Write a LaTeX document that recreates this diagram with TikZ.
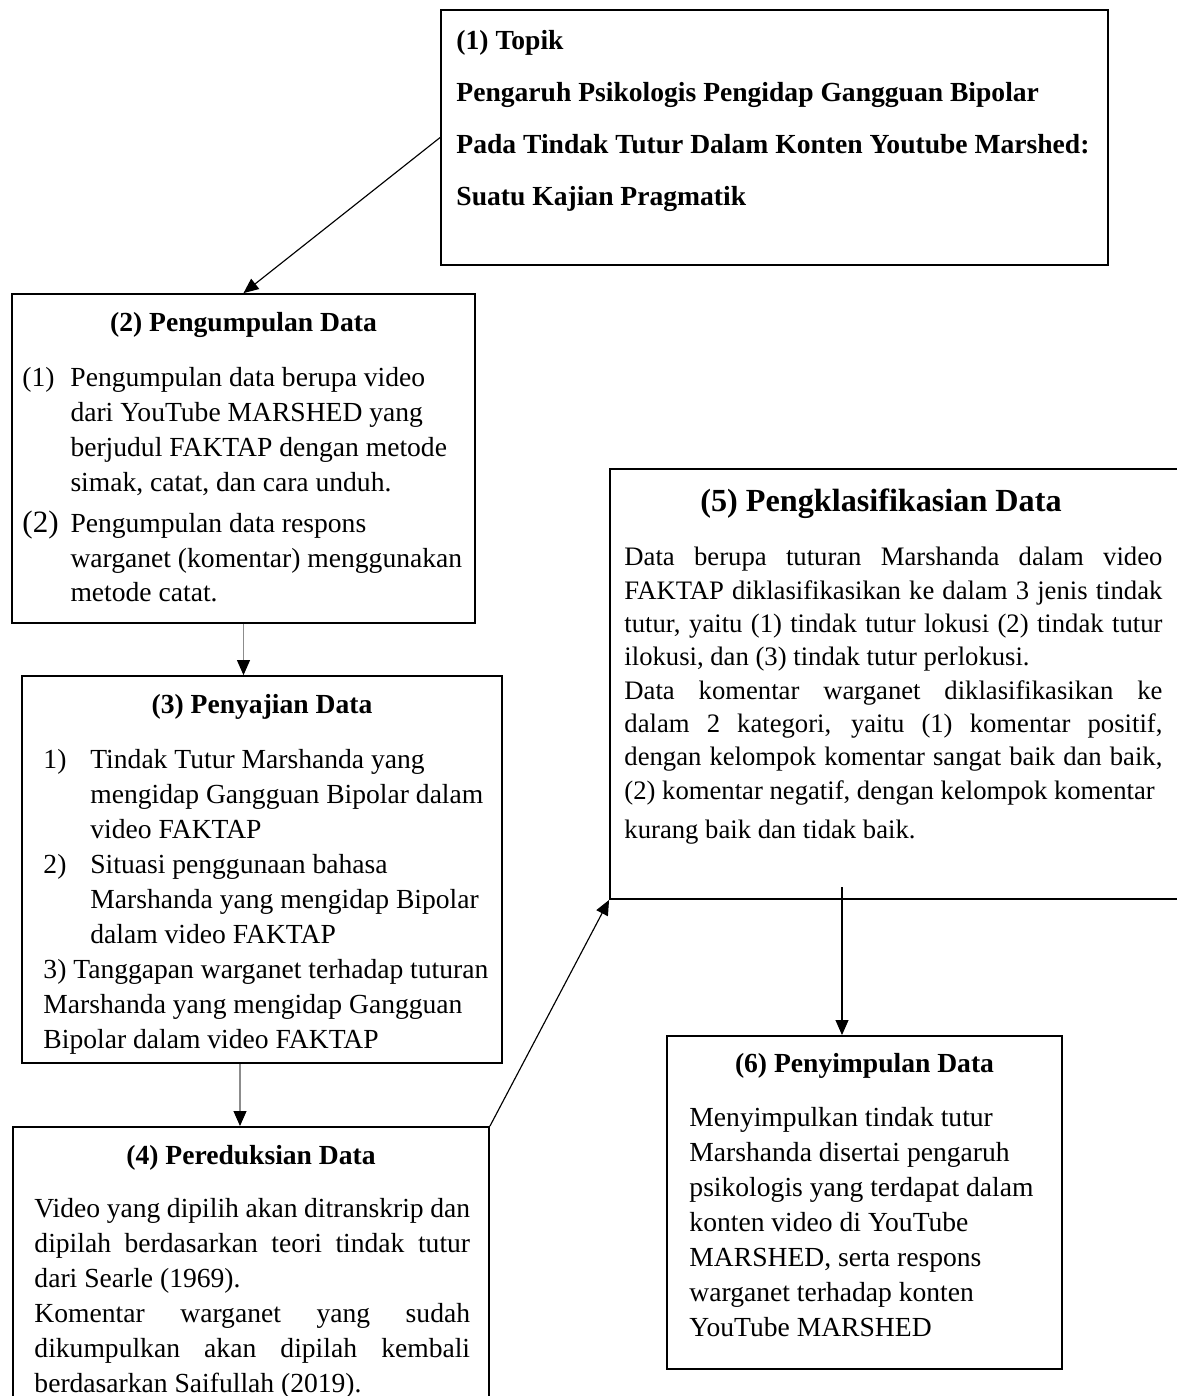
\documentclass[tikz,border=0pt]{standalone}
\usepackage{fontspec}
\setmainfont{Liberation Serif}
\usetikzlibrary{arrows.meta}

\begin{document}
\begin{tikzpicture}[x=0.435pt, y=-0.435pt,
  box/.style={draw, thick, rectangle, inner sep=0pt},
  head/.style={font=\fontsize{12}{14}\selectfont\bfseries, inner sep=0pt, anchor=base},
  body/.style={font=\fontsize{12}{15.2}\selectfont, inner sep=0pt, anchor=north west},
  arr/.style={line width=0.5pt, -{Triangle[length=6.5pt,width=5.6pt]}},
  greyarr/.style={arr, draw=black!45, -{Triangle[length=6.5pt,width=5.6pt,black]}}]
\useasboundingbox (0,0) rectangle (1177,1396);
\node[box, minimum width=290.1pt, minimum height=110.9pt] (B1) at (774.5,137.5) {};
\node[box, minimum width=201.4pt, minimum height=143.1pt] (B2) at (243.5,458.5) {};
\node[box, minimum width=208.8pt, minimum height=168.3pt] (B3) at (262,869.5) {};
\node[box, minimum width=207.1pt, minimum height=127.5pt] (B4) at (251,1273.5) {};
\node[box, minimum width=254.5pt, minimum height=187.1pt] (B5) at (902.5,684) {};
\node[box, minimum width=171.8pt, minimum height=144.9pt] (B6) at (864.5,1202.5) {};
\node[body, font=\fontsize{12}{22.6}\selectfont\bfseries, align=left] (T1) at (456,30)
  {(1) Topik\\ Pengaruh Psikologis Pengidap Gangguan Bipolar\\ Pada Tindak Tutur Dalam Konten Youtube Marshed:\\ Suatu Kajian Pragmatik};
\node[head] (H2) at (243.5,331) {(2) Pengumpulan Data};
\node[body] (T2) at (22,362) {\begin{tabular}{@{}p{20.9pt}@{}l@{}}
  (1) & Pengumpulan data berupa video\\
      & dari YouTube MARSHED yang\\
      & berjudul FAKTAP dengan metode\\
      & simak, catat, dan cara unduh.\\[2.6pt]
  {\fontsize{13.5}{15.2}\selectfont(2)} & Pengumpulan data respons\\
      & warganet (komentar) menggunakan\\[-0.6pt]
      & metode catat.
  \end{tabular}};
\node[head] (H3) at (262,713) {(3) Penyajian Data};
\node[body] (T3) at (43,744) {\begin{tabular}{@{}p{20.4pt}@{}l@{}}
  1) & Tindak Tutur Marshanda yang\\
     & mengidap Gangguan Bipolar dalam\\
     & video FAKTAP\\
  2) & Situasi penggunaan bahasa\\
     & Marshanda yang mengidap Bipolar\\
     & dalam video FAKTAP\\
  \multicolumn{2}{@{}l@{}}{3) Tanggapan warganet terhadap tuturan}\\
  \multicolumn{2}{@{}l@{}}{Marshanda yang mengidap Gangguan}\\
  \multicolumn{2}{@{}l@{}}{Bipolar dalam video FAKTAP}
  \end{tabular}};
\node[head] (H4) at (251,1164) {(4) Pereduksian Data};
\node[body, text width=189.5pt, align=justify] (T4) at (34,1198)
  {\tolerance=10000\hyphenpenalty=10000 Video yang dipilih akan ditranskrip dan\linebreak
   dipilah berdasarkan teori tindak tutur\linebreak dari Searle (1969).\\
   Komentar warganet yang sudah\linebreak dikumpulkan akan dipilah kembali\linebreak
   berdasarkan Saifullah (2019).};
\node[head, font=\fontsize{14}{16}\selectfont\bfseries] (H5) at (881,511) {(5) Pengklasifikasian Data};
\node[body, font=\fontsize{11.6}{14.5}\selectfont, text width=234pt, align=justify] (T5) at (624,547)
  {\tolerance=10000\hyphenpenalty=10000\exhyphenpenalty=10000 Data berupa tuturan Marshanda dalam video\linebreak
   FAKTAP diklasifikasikan ke dalam 3 jenis tindak\linebreak
   tutur, yaitu (1) tindak tutur lokusi (2) tindak tutur\linebreak
   ilokusi, dan (3) tindak tutur perlokusi.\\
   Data komentar warganet diklasifikasikan ke\linebreak
   dalam 2 kategori, yaitu (1) komentar positif,\linebreak
   dengan kelompok komentar sangat baik dan baik,\linebreak
   (2) komentar negatif, dengan kelompok komentar\\[2.5pt]
   kurang baik dan tidak baik.};
\node[head] (H6) at (864.5,1072) {(6) Penyimpulan Data};
\node[body, align=left] (T6) at (689,1107)
  {Menyimpulkan tindak tutur\\ Marshanda disertai pengaruh\\ psikologis yang terdapat dalam\\
   konten video di YouTube\\ MARSHED, serta respons\\ warganet terhadap konten\\ YouTube MARSHED};
\coordinate (P34) at (240,1063);
\coordinate (P56) at (842,887);
\draw[arr] (B1.west) -- (B2.north);
\draw[greyarr] (B2.south) -- (B2.south |- B3.north);
\draw[greyarr] (P34 |- B3.south) -- (P34 |- B4.north);
\draw[arr] (B4.north east) -- (B5.south west);
\draw[arr] (P56) -- (P56 |- B6.north);
\end{tikzpicture}
\end{document}
